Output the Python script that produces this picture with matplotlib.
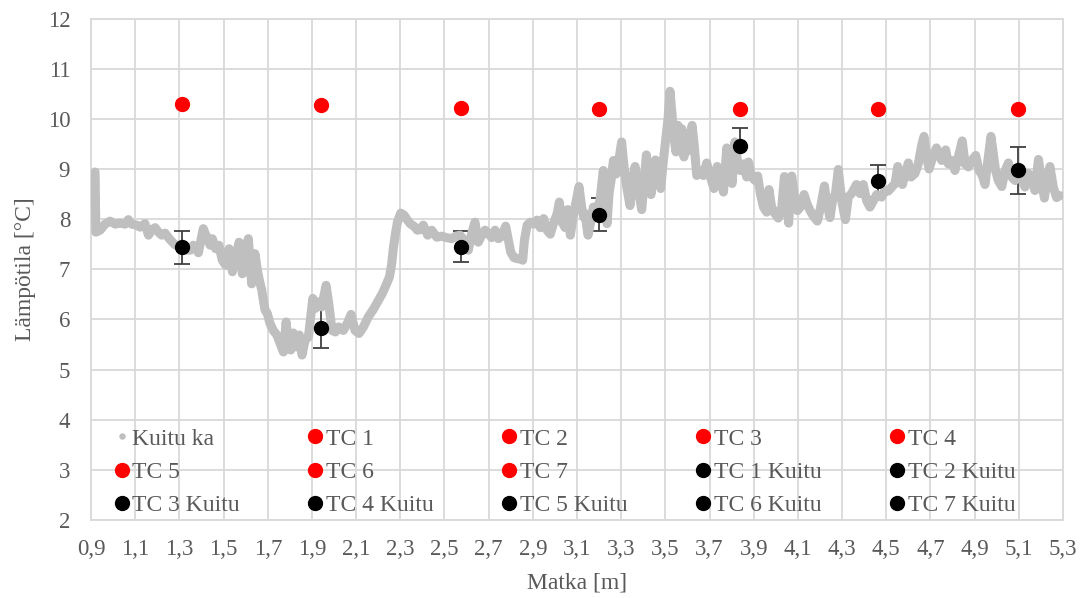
import matplotlib
matplotlib.use("Agg")
import matplotlib.pyplot as plt
from matplotlib.lines import Line2D

plt.rcParams['font.family'] = ['Liberation Serif', 'DejaVu Serif']

# ---- data ----
kuitu_x = [0.918, 0.919, 0.919, 0.920, 0.920, 0.921, 0.921, 0.922, 0.941, 0.963,
           0.986, 1.009, 1.031, 1.054, 1.069, 1.084, 1.107, 1.122, 1.144, 1.160,
           1.175, 1.190, 1.205, 1.220, 1.235, 1.258, 1.280, 1.303, 1.326, 1.348,
           1.363, 1.386, 1.408, 1.424, 1.439, 1.449, 1.464, 1.479, 1.494, 1.510,
           1.525, 1.540, 1.555, 1.570, 1.585, 1.600, 1.612, 1.627, 1.642, 1.653,
           1.662, 1.673, 1.680, 1.688, 1.698, 1.710, 1.725, 1.741, 1.756, 1.771,
           1.783, 1.793, 1.804, 1.816, 1.831, 1.843, 1.855, 1.869, 1.884, 1.904,
           1.916, 1.929, 1.944, 1.964, 1.976, 1.991, 2.006, 2.021, 2.042, 2.060,
           2.077, 2.095, 2.113, 2.133, 2.155, 2.178, 2.201, 2.219, 2.235, 2.251,
           2.261, 2.269, 2.278, 2.287, 2.302, 2.317, 2.332, 2.347, 2.362, 2.377,
           2.390, 2.404, 2.424, 2.442, 2.465, 2.487, 2.510, 2.533, 2.551, 2.570,
           2.593, 2.608, 2.623, 2.638, 2.653, 2.669, 2.684, 2.699, 2.714, 2.729,
           2.744, 2.759, 2.777, 2.789, 2.800, 2.815, 2.830, 2.845, 2.854, 2.862,
           2.874, 2.889, 2.904, 2.919, 2.934, 2.949, 2.964, 2.979, 2.994, 3.010,
           3.020, 3.032, 3.046, 3.058, 3.070, 3.082, 3.094, 3.109, 3.121, 3.130,
           3.136, 3.150, 3.162, 3.174, 3.189, 3.204, 3.219, 3.228, 3.236, 3.245,
           3.254, 3.265, 3.277, 3.287, 3.302, 3.313, 3.325, 3.340, 3.352, 3.363,
           3.378, 3.393, 3.403, 3.414, 3.426, 3.435, 3.446, 3.455, 3.468, 3.479,
           3.491, 3.503, 3.512, 3.521, 3.530, 3.539, 3.548, 3.557, 3.566, 3.575,
           3.584, 3.594, 3.606, 3.621, 3.630, 3.642, 3.657, 3.672, 3.687, 3.702,
           3.720, 3.735, 3.748, 3.763, 3.778, 3.790, 3.802, 3.815, 3.826, 3.838,
           3.853, 3.868, 3.876, 3.891, 3.906, 3.918, 3.930, 3.944, 3.959, 3.969,
           3.981, 3.996, 4.011, 4.027, 4.039, 4.049, 4.058, 4.072, 4.087, 4.098,
           4.111, 4.128, 4.141, 4.155, 4.170, 4.188, 4.203, 4.220, 4.232, 4.245,
           4.257, 4.270, 4.283, 4.298, 4.315, 4.328, 4.343, 4.365, 4.381, 4.396,
           4.411, 4.426, 4.442, 4.457, 4.479, 4.494, 4.509, 4.525, 4.540, 4.552,
           4.562, 4.573, 4.585, 4.600, 4.612, 4.630, 4.645, 4.660, 4.671, 4.683,
           4.694, 4.706, 4.727, 4.739, 4.751, 4.769, 4.781, 4.796, 4.811, 4.826,
           4.844, 4.857, 4.872, 4.887, 4.905, 4.920, 4.935, 4.947, 4.962, 4.974,
           4.985, 4.995, 5.007, 5.023, 5.038, 5.053, 5.068, 5.083, 5.106, 5.128,
           5.143, 5.158, 5.173, 5.189, 5.204, 5.216, 5.228, 5.241, 5.256, 5.271,
           5.287]
kuitu_y = [8.94, 8.77, 8.60, 8.43, 8.26, 8.09, 7.92, 7.74, 7.78, 7.90,
           7.96, 7.90, 7.92, 7.90, 7.99, 7.90, 7.88, 7.84, 7.91, 7.68,
           7.79, 7.83, 7.74, 7.68, 7.72, 7.59, 7.49, 7.44, 7.39, 7.38,
           7.48, 7.33, 7.81, 7.64, 7.48, 7.61, 7.41, 7.48, 7.18, 7.08,
           7.41, 6.95, 7.25, 7.54, 6.91, 7.38, 7.61, 6.71, 7.31, 6.98,
           6.78, 6.58, 6.38, 6.18, 6.12, 5.92, 5.78, 5.69, 5.52, 5.35,
           5.95, 5.52, 5.39, 5.73, 5.45, 5.69, 5.29, 5.59, 5.65, 6.42,
           6.22, 6.35, 6.25, 6.68, 6.32, 5.78, 5.75, 5.85, 5.78, 5.92,
           6.10, 5.78, 5.72, 5.85, 6.05, 6.20, 6.38, 6.52, 6.68, 6.85,
           7.11, 7.44, 7.71, 7.94, 8.12, 8.08, 7.98, 7.90, 7.86, 7.78,
           7.79, 7.88, 7.68, 7.78, 7.64, 7.66, 7.63, 7.61, 7.66, 7.68,
           7.56, 7.38, 7.71, 7.94, 7.54, 7.68, 7.78, 7.71, 7.63, 7.78,
           7.61, 7.66, 7.86, 7.59, 7.34, 7.23, 7.21, 7.21, 7.18, 7.58,
           7.88, 7.94, 7.90, 7.98, 7.83, 8.01, 7.78, 7.70, 7.92, 8.11,
           8.34, 7.94, 7.83, 8.19, 7.68, 8.04, 8.31, 8.65, 8.24, 8.04,
           8.11, 7.68, 7.94, 8.24, 8.18, 8.37, 8.97, 8.37, 7.91, 8.51,
           8.77, 9.17, 8.90, 9.10, 9.54, 9.04, 8.64, 8.27, 8.81, 9.05,
           8.57, 8.19, 8.71, 9.28, 8.84, 8.49, 9.04, 9.18, 8.77, 8.61,
           9.17, 9.64, 10.00, 10.55, 10.10, 9.64, 9.34, 9.87, 9.40, 9.80,
           9.24, 9.70, 9.37, 9.87, 9.50, 8.87, 8.97, 8.87, 9.12, 8.87,
           8.61, 9.05, 8.81, 8.54, 9.42, 9.17, 8.71, 9.54, 9.17, 8.97,
           9.10, 8.84, 9.14, 8.84, 8.77, 8.86, 8.51, 8.24, 8.14, 8.59,
           8.24, 8.11, 8.02, 8.24, 8.85, 8.31, 7.92, 8.86, 8.37, 8.17,
           8.24, 8.49, 8.31, 8.17, 8.06, 7.96, 8.24, 8.66, 8.31, 8.03,
           8.37, 8.51, 8.99, 8.37, 7.99, 8.44, 8.51, 8.69, 8.51, 8.69,
           8.37, 8.24, 8.37, 8.49, 8.44, 8.57, 8.56, 8.64, 8.71, 9.05,
           8.77, 8.69, 8.89, 9.12, 8.84, 8.91, 9.10, 9.47, 9.65, 9.24,
           9.00, 9.17, 9.42, 9.30, 9.17, 9.38, 9.10, 9.17, 8.97, 9.24,
           9.56, 9.10, 9.04, 9.17, 9.27, 8.97, 8.87, 8.69, 9.24, 9.65,
           9.30, 8.97, 8.77, 8.65, 8.97, 9.12, 8.84, 8.77, 8.91, 8.64,
           8.91, 8.83, 8.57, 9.19, 8.71, 8.42, 8.84, 9.05, 8.64, 8.43,
           8.47]

tc_names = ["TC 1", "TC 2", "TC 3", "TC 4", "TC 5", "TC 6", "TC 7"]
tc_x = [1.312, 1.943, 2.577, 3.201, 3.838, 4.464, 5.095]
tc_y = [10.30, 10.27, 10.21, 10.20, 10.20, 10.20, 10.20]
kuitu_tc_y = [7.44, 5.82, 7.45, 8.09, 9.45, 8.76, 8.97]
kuitu_tc_err = [0.33, 0.39, 0.31, 0.33, 0.37, 0.32, 0.47]

x_ticks = [0.9, 1.1, 1.3, 1.5, 1.7, 1.9, 2.1, 2.3, 2.5, 2.7, 2.9, 3.1,
           3.3, 3.5, 3.7, 3.9, 4.1, 4.3, 4.5, 4.7, 4.9, 5.1, 5.3]
y_ticks = [2, 3, 4, 5, 6, 7, 8, 9, 10, 11, 12]

# ---- figure ----
fig = plt.figure(figsize=(10.84, 5.98), dpi=100)
ax = fig.add_axes([0.084, 0.1304, 0.8966, 0.8386])

txt = '#595959'
grid = '#d9d9d9'

ax.errorbar(tc_x, kuitu_tc_y, yerr=kuitu_tc_err, fmt='none', ecolor='#404040',
            elinewidth=1.3, capsize=5.5, capthick=1.3, zorder=2)
ax.plot(kuitu_x, kuitu_y, '-', color='#bfbfbf', lw=6.5, solid_joinstyle='round',
        solid_capstyle='round', zorder=3)

handles = [Line2D([], [], marker='o', ls='none', color='#bfbfbf', ms=3.6)]
labels = ["Kuitu ka"]
for i, n in enumerate(tc_names):
    h, = ax.plot([tc_x[i]], [tc_y[i]], 'o', color='#ff0000', ms=10, zorder=4)
    handles.append(h)
    labels.append(n)
for i, n in enumerate(tc_names):
    h, = ax.plot([tc_x[i]], [kuitu_tc_y[i]], 'o', color='#000000', ms=10, zorder=5)
    handles.append(h)
    labels.append(n + " Kuitu")

ax.set_xlim(0.9, 5.3)
ax.set_ylim(2, 12)
ax.set_xticks(x_ticks)
ax.set_xticklabels([f"{v:.1f}".replace('.', ',') for v in x_ticks])
ax.set_yticks(y_ticks)
ax.grid(True, color=grid, lw=1.3)
ax.set_axisbelow(True)
for s in ax.spines.values():
    s.set_color(grid)
    s.set_linewidth(1.3)
ax.tick_params(length=0, labelsize=16.5, colors=txt)
ax.tick_params(axis='x', pad=14)
ax.tick_params(axis='y', pad=15)
ax.set_xlabel("Matka [m]", fontsize=17, color=txt, labelpad=9)
ax.set_ylabel("Lämpötila [°C]", fontsize=17, color=txt, labelpad=8)

# legend: row-major ordering in a 5-column layout
ncol, nrow = 5, 3
order = [r * ncol + c for c in range(ncol) for r in range(nrow)]
leg = ax.legend([handles[k] for k in order], [labels[k] for k in order],
                ncol=ncol, loc='lower left', bbox_to_anchor=(0.012, -0.016),
                frameon=False, fontsize=17, markerscale=1.0,
                handlelength=0.6, handletextpad=0.15, columnspacing=2.9,
                labelspacing=0.5, borderaxespad=0.1)
for t in leg.get_texts():
    t.set_color(txt)

fig.savefig("out.png", dpi=100)
